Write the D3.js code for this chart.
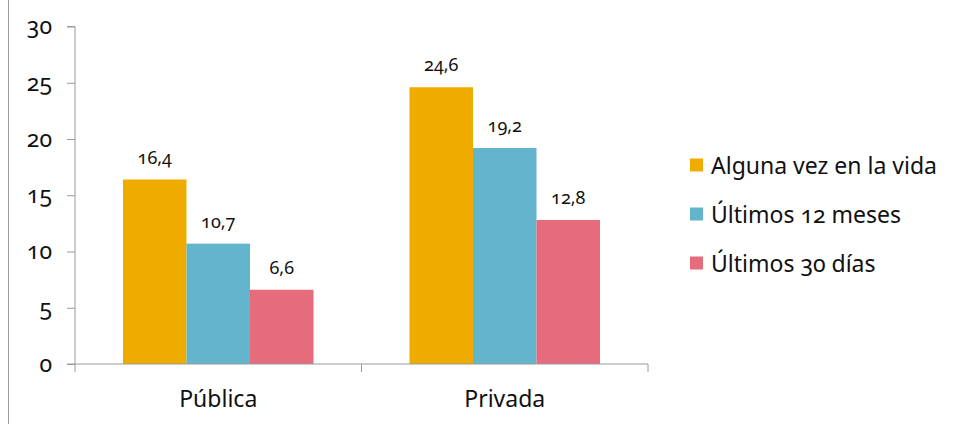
<!DOCTYPE html>
<html>
<head>
<meta charset="utf-8">
<script src="https://cdn.jsdelivr.net/npm/d3@7"></script>
<style>
  body { margin: 0; background: #fff; }
  svg text { font-family: "Noto Sans", "Open Sans", sans-serif; font-feature-settings: "onum"; fill: #111; }
</style>
</head>
<body>
<div id="chart"></div>
<script>
const categories = ["Pública", "Privada"];
const series = ["Alguna vez en la vida", "Últimos 12 meses", "Últimos 30 días"];
const valuesPublica = [16.4, 10.7, 6.6];
const valuesPrivada = [24.6, 19.2, 12.8];
const yTicks = [0, 5, 10, 15, 20, 25, 30];
const colors = ["#F0AB00", "#62B5CC", "#E66C7D"];

const data = [valuesPublica, valuesPrivada];

const width = 955, height = 424;
const margin = { top: 26.5, right: 307, bottom: 60, left: 75 };
const innerW = width - margin.left - margin.right,
      innerH = height - margin.top - margin.bottom;

const svg = d3.select("#chart").append("svg")
  .attr("width", width).attr("height", height);

// outer chart border (only the left edge is visible)
svg.append("line")
  .attr("x1", 8.5).attr("x2", 8.5).attr("y1", 0).attr("y2", height)
  .attr("stroke", "#9a9a9a").attr("stroke-width", 1);

const g = svg.append("g").attr("transform", `translate(${margin.left},${margin.top})`);

const x0 = d3.scaleBand().domain(categories).range([0, innerW]).paddingInner(0).paddingOuter(0);
const x1 = d3.scaleBand().domain(series).range([48, x0.bandwidth() - 48]);
const y = d3.scaleLinear().domain([0, 30]).range([innerH, 0]);

// bars
const groups = g.selectAll(".grp").data(categories).enter().append("g")
  .attr("transform", d => `translate(${x0(d)},0)`);

groups.each(function (cat, i) {
  const gg = d3.select(this);
  const rows = series.map((s, j) => ({ s, v: data[i][j], c: colors[j] }));
  gg.selectAll("rect").data(rows).enter().append("rect")
    .attr("x", d => x1(d.s))
    .attr("y", d => y(d.v))
    .attr("width", x1.bandwidth())
    .attr("height", d => innerH - y(d.v))
    .attr("fill", d => d.c);
  gg.selectAll(".lbl").data(rows).enter().append("text")
    .attr("x", d => x1(d.s) + x1.bandwidth() / 2)
    .attr("y", d => y(d.v) - 16)
    .attr("text-anchor", "middle")
    .style("font-size", "18px")
    .text(d => d.v.toFixed(1).replace(".", ","));
});

// y axis
const yAxis = g.append("g").call(d3.axisLeft(y).tickValues(yTicks).tickSize(8).tickPadding(15));
yAxis.select(".domain").attr("stroke", "#9a9a9a").attr("d", `M-8,0H0V${innerH}H-8`);
yAxis.selectAll(".tick line").attr("stroke", "#9a9a9a");
yAxis.selectAll(".tick text").style("font-size", "23px").attr("fill", "#111");

// x axis
const xAxis = g.append("g").attr("transform", `translate(0,${innerH})`)
  .call(d3.axisBottom(x0).tickSize(0).tickPadding(27));
xAxis.select(".domain").attr("stroke", "#9a9a9a").attr("d", `M0,0H${innerW}`);
xAxis.selectAll(".tick text").style("font-size", "23px").attr("fill", "#111");
xAxis.selectAll(".sep").data([0, 1, 2]).enter().append("line")
  .attr("x1", d => d * x0.bandwidth()).attr("x2", d => d * x0.bandwidth())
  .attr("y1", 0).attr("y2", 8).attr("stroke", "#9a9a9a");

// legend
const legend = svg.append("g").attr("transform", "translate(690,165)");
const li = legend.selectAll("g").data(series).enter().append("g")
  .attr("transform", (d, i) => `translate(0,${i * 49})`);
li.append("rect").attr("x", 0).attr("y", -6.5).attr("width", 13).attr("height", 13)
  .attr("fill", (d, i) => colors[i]);
li.append("text").attr("x", 21).attr("y", 0).attr("dy", "0.4em")
  .style("font-size", "23px").text(d => d);
</script>
</body>
</html>
